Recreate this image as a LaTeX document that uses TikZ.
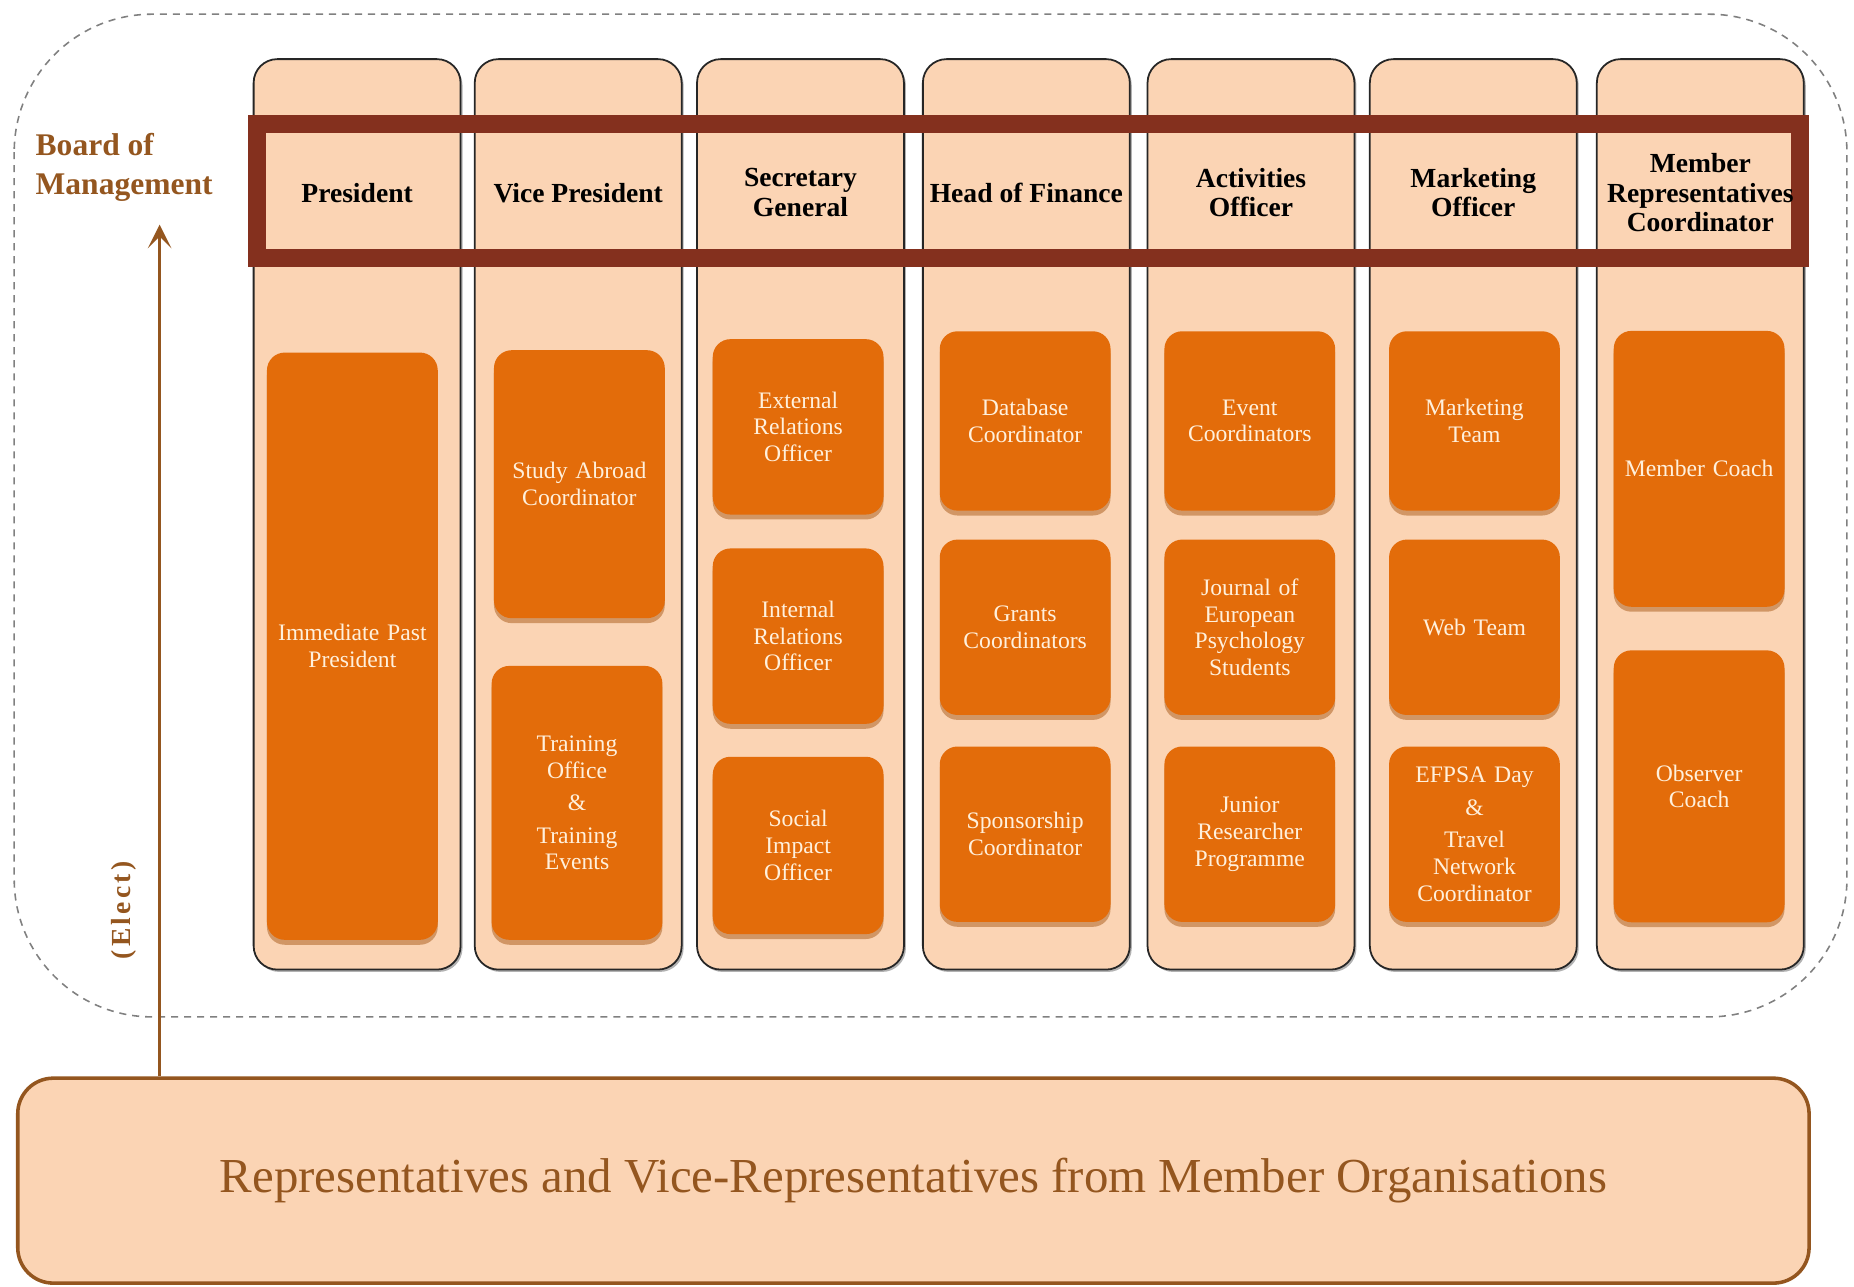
\documentclass[tikz,border=0pt]{standalone}
\usepackage{fontspec}
\setmainfont{Liberation Serif}
\usetikzlibrary{arrows.meta,shadows}

\definecolor{peach}{HTML}{FBD4B4}
\definecolor{pumpkin}{HTML}{E36C0A}
\definecolor{rust}{HTML}{84301E}
\definecolor{bark}{HTML}{94561F}
\definecolor{cream}{HTML}{FFF0DC}

\tikzset{
  column/.style={draw=black!85,fill=peach,rounded corners=12pt,line width=0.9pt,
    minimum width=105pt,minimum height=462pt,
    drop shadow={shadow xshift=1pt,shadow yshift=-1.2pt,opacity=0.3,fill=black}},
  post/.style={fill=pumpkin,rounded corners=9pt,minimum width=84pt,text width=80pt,
    align=center,text=cream,font=\fontsize{12}{13.5}\selectfont,
    drop shadow={shadow xshift=0pt,shadow yshift=-2.5pt,opacity=0.45,fill=pumpkin!70!black}},
  title/.style={align=center,font=\fontsize{14}{15}\selectfont\bfseries},
  brown text/.style={text=bark,font=\fontsize{16}{20}\selectfont\bfseries},
}

\begin{document}
\begin{tikzpicture}[x=0.6pt,y=-0.6pt]
    \useasboundingbox (0,0) rectangle (1568,1088);
    \draw [gray,line width=0.8pt,dash pattern=on 3.6pt off 3pt,rounded corners=70pt]
	(12,12) rectangle (1562,860);
    \foreach \name/\x in {pres/302,vice/489,secr/677,fina/868,acti/1058,mark/1246,memb/1438}
	\path (\x,435) node [column] (col-\name) {};
    \path (870,161.5) node [draw=rust,line width=9pt,minimum width=783pt,minimum height=68pt]
	(frame) {};
    \path ( 302,163) node [title] (h-pres) {President};
    \path ( 489,163) node [title] (h-vice) {Vice President};
    \path ( 677,163) node [title] (h-secr) {Secretary\\General};
    \path ( 868,163) node [title] (h-fina) {Head of Finance};
    \path (1058,163) node [title] (h-acti) {Activities\\Officer};
    \path (1246,163) node [title] (h-mark) {Marketing\\Officer};
    \path (1438,163) node [title] (h-memb) {Member\\Representatives\\Coordinator};
    \path ( 298,546.5) node [post,minimum height=298pt] (ipp) {Immediate Past\\President};
    \path ( 490,409.5) node [post,minimum height=136pt] (sac) {Study Abroad\\Coordinator};
    \path ( 488,679) node [post,minimum height=139pt]
	(tro) {Training\\Office\\[3pt]\&\\[3pt]Training\\Events};
    \path ( 675,361) node [post,minimum height=89pt] (ero) {External\\Relations\\Officer};
    \path ( 675,538) node [post,minimum height=89pt] (iro) {Internal\\Relations\\Officer};
    \path ( 675,715) node [post,minimum height=90pt] (sio) {Social\\Impact\\Officer};
    \path ( 867,356) node [post,minimum height=91pt] (dbc) {Database\\Coordinator};
    \path ( 867,530.5) node [post,minimum height=89pt] (grc) {Grants\\Coordinators};
    \path ( 867,705.5) node [post,minimum height=89pt] (spc) {Sponsorship\\Coordinator};
    \path (1057,356) node [post,minimum height=91pt] (evc) {Event\\Coordinators};
    \path (1057,530.5) node [post,minimum height=89pt]
	(jeps) {Journal of\\European\\Psychology\\Students};
    \path (1057,705.5) node [post,minimum height=89pt] (jrp) {Junior\\Researcher\\Programme};
    \path (1247,356) node [post,minimum height=91pt] (mkt) {Marketing\\Team};
    \path (1247,530.5) node [post,minimum height=89pt] (web) {Web Team};
    \path (1247,705.5) node [post,minimum height=89pt]
	(efd) {EFPSA Day\\[3pt]\&\\[3pt]Travel\\Network\\Coordinator};
    \path (1437,396.5) node [post,minimum height=140pt] (mco) {Member Coach};
    \path (1437,665) node [post,minimum height=138pt] (obc) {Observer\\Coach};
    \path (772.5,998.5) node [draw=bark,fill=peach,rounded corners=18pt,line width=1.8pt,
	minimum width=909pt,minimum height=104pt,text=bark,font=\fontsize{24.8}{28}\selectfont]
	(reps) {Representatives and Vice-Representatives from Member Organisations};
    \path (105,141.5) node [brown text,align=left] (board) {Board of\\Management};
    \coordinate (elect-top) at (135,190);
    \draw [bark,line width=1.8pt,-{Stealth[length=12pt,width=12pt,inset=6pt]}]
	(reps.north -| elect-top) -- (elect-top);
    \path (105,770) node [rotate=90,text=bark,font=\fontsize{14}{16}\selectfont\bfseries\addfontfeature{LetterSpace=12}]
	(elect) {(Elect)};
\end{tikzpicture}
\end{document}
